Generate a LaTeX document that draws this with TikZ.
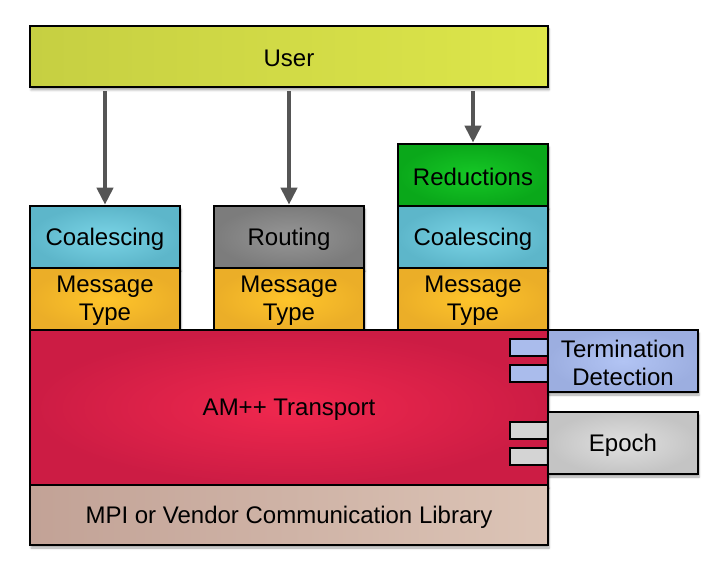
\documentclass[tikz,border=0pt]{standalone}
\usepackage{fontspec}
\setmainfont{Liberation Sans}
\usetikzlibrary{arrows.meta,shadows.blur}
\definecolor{userL}{HTML}{C6CF42}
\definecolor{userR}{HTML}{DDE64A}
\definecolor{coalI}{HTML}{7AD4E6}
\definecolor{coalO}{HTML}{5DB6CA}
\definecolor{msgI}{HTML}{FFC52A}
\definecolor{msgO}{HTML}{EBAE28}
\definecolor{routI}{HTML}{969696}
\definecolor{routO}{HTML}{7C7C7C}
\definecolor{redI}{HTML}{16C826}
\definecolor{redO}{HTML}{0AA81A}
\definecolor{amI}{HTML}{F0284E}
\definecolor{amO}{HTML}{CC1C44}
\definecolor{mpiL}{HTML}{C2A296}
\definecolor{mpiR}{HTML}{DCC4B6}
\definecolor{termI}{HTML}{B2C4F4}
\definecolor{termO}{HTML}{9CAEE0}
\definecolor{epI}{HTML}{E0E0E0}
\definecolor{epO}{HTML}{C4C4C4}
\definecolor{tabT}{HTML}{AABCEC}
\definecolor{tabE}{HTML}{D4D4D4}
\definecolor{arrowc}{HTML}{555555}
\tikzset{
  box/.style={draw=black, line width=2.6pt, rectangle, inner sep=0pt},
  lbl/.style={align=center, inner sep=0pt, yshift=-2pt, font=\fontsize{24}{28}\selectfont},
  shad/.style={blur shadow={shadow blur steps=6, shadow xshift=1pt, shadow yshift=-3pt, shadow opacity=35}},
  colbox/.style={box, minimum width=150pt, minimum height=62pt},
  tab/.style={draw=black, line width=2.2pt, rectangle, inner sep=0pt, minimum width=38pt, minimum height=17pt},
  arrowline/.style={draw=arrowc, line width=4pt, -{Triangle[width=16pt,length=17pt]}},
}
\begin{document}
\begin{tikzpicture}[x=1pt,y=-1pt]
\useasboundingbox (0,0) rectangle (728,580);
% top
\node[box, shad, minimum width=518pt, minimum height=61pt, left color=userL, right color=userR,
  label={[lbl, name=userT]center:User}] (user) at (289,56.5) {};
\node[colbox, shad, inner color=redI, outer color=redO, label={[lbl, name=redT]center:Reductions}] (red) at (473,175) {};
\node[colbox, shad, inner color=coalI, outer color=coalO, label={[lbl, name=coal1T]center:Coalescing}] (coal1) at (105,237) {};
\node[colbox, shad, inner color=routI, outer color=routO, label={[lbl, name=routT]center:Routing}] (rout) at (289,237) {};
\node[colbox, shad, inner color=coalI, outer color=coalO, label={[lbl, name=coal3T]center:Coalescing}] (coal3) at (473,237) {};
\node[colbox, shad, inner color=msgI, outer color=msgO, label={[lbl, name=msg1T]center:Message\\Type}] (msg1) at (105,299) {};
\node[colbox, shad, inner color=msgI, outer color=msgO, label={[lbl, name=msg2T]center:Message\\Type}] (msg2) at (289,299) {};
\node[colbox, shad, inner color=msgI, outer color=msgO, label={[lbl, name=msg3T]center:Message\\Type}] (msg3) at (473,299) {};
% transport
\node[box, shad, minimum width=518pt, minimum height=155pt, inner color=amI, outer color=amO,
  label={[lbl, name=amT]center:AM++ Transport}] (am) at (289,407.5) {};
\node[box, shad, minimum width=518pt, minimum height=60pt, left color=mpiL, right color=mpiR,
  label={[lbl, name=mpiT]center:MPI or Vendor Communication Library}] (mpi) at (289,515) {};
% tabs
\node[tab, fill=tabT] (t1) at (529,347.5) {};
\node[tab, fill=tabT] (t2) at (529,373.5) {};
\node[tab, fill=tabE] (e1) at (529,430.5) {};
\node[tab, fill=tabE] (e2) at (529,456.5) {};
% side boxes
\node[box, shad, minimum width=150pt, minimum height=62pt, inner color=termI, outer color=termO,
  label={[lbl, name=termT]center:Termination\\Detection}] (term) at (623,361) {};
\node[box, shad, minimum width=150pt, minimum height=62pt, inner color=epI, outer color=epO,
  label={[lbl, name=epochT]center:Epoch}] (epoch) at (623,443) {};
% arrows
\draw[arrowline] (coal1.north |- user.south) ++(0,3) -- (coal1.north);
\draw[arrowline] (rout.north |- user.south) ++(0,3) -- (rout.north);
\draw[arrowline] (red.north |- user.south) ++(0,3) -- (red.north);
\end{tikzpicture}
\end{document}
